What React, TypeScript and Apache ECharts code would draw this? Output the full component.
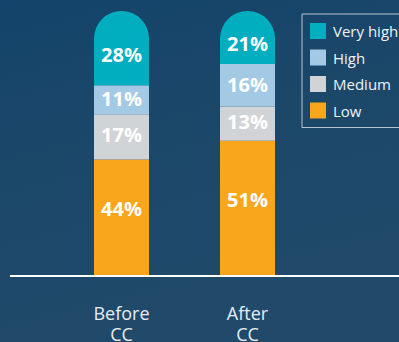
import React, { useEffect, useRef } from "react";
import * as echarts from "echarts";

const categories = ["Before\nCC", "After\nCC"];
const lowValues = [44, 51];
const mediumValues = [17, 13];
const highValues = [11, 16];
const veryHighValues = [28, 21];
const seriesNames = ["Very high", "High", "Medium", "Low"];

export default function App() {
  const ref = useRef<HTMLDivElement>(null);
  useEffect(() => {
    if (!ref.current) return;
    const chart = echarts.init(ref.current, null, { renderer: "svg" });
    const font = "'Open Sans', 'DejaVu Sans', sans-serif";
    const label = (offsetY: number) => ({
      show: true,
      position: "inside",
      formatter: "{c}%",
      color: "#ffffff",
      fontSize: 20,
      fontWeight: "bold",
      fontFamily: font,
      offset: [0, offsetY],
    });
    const barW = 55;
    chart.setOption({
      animation: false,
      backgroundColor: {
        type: "linear",
        x: 0,
        y: 0,
        x2: 0.3,
        y2: 1,
        colorStops: [
          { offset: 0, color: "#14446b" },
          { offset: 0.45, color: "#1b4769" },
          { offset: 1, color: "#214a6a" },
        ],
      },
      grid: { left: 58.5, width: 252, top: 11, bottom: 66, outerBoundsMode: "none", containLabel: false },
      legend: {
        data: seriesNames,
        orient: "vertical",
        left: 302,
        top: 14,
        padding: [9, 10, 9, 8],
        itemWidth: 16,
        itemHeight: 16,
        itemGap: 10.5,
        icon: "rect",
        borderColor: "#b7c3ce",
        borderWidth: 1,
        textStyle: { color: "#eef3f7", fontSize: 15, fontFamily: font, padding: [0, 0, 0, 2] },
      },
      xAxis: {
        type: "category",
        data: categories,
        axisLine: { show: false },
        axisTick: { show: false },
        axisLabel: {
          color: "#e6edf3",
          fontSize: 18,
          lineHeight: 21,
          fontFamily: font,
          margin: 26,
        },
      },
      yAxis: { type: "value", min: 0, max: 100, show: false },
      graphic: [
        {
          type: "line",
          shape: { x1: 10, y1: 276, x2: 399, y2: 276 },
          style: { stroke: "#ffffff", lineWidth: 2 },
          z: 10,
        },
      ],
      series: [
        { name: "Low", type: "bar", stack: "s", barWidth: barW, data: lowValues, itemStyle: { color: "#f9a61c" }, label: label(-9) },
        { name: "Medium", type: "bar", stack: "s", barWidth: barW, data: mediumValues, itemStyle: { color: "#d1d4d7" }, label: label(-2) },
        { name: "High", type: "bar", stack: "s", barWidth: barW, data: highValues, itemStyle: { color: "#a4c9e4" }, label: label(-1) },
        {
          name: "Very high",
          type: "bar",
          stack: "s",
          barWidth: barW,
          data: veryHighValues,
          itemStyle: { color: "#00aebf", borderRadius: [28, 28, 0, 0] },
          label: label(6),
        },
      ],
    });
    return () => chart.dispose();
  }, []);
  return (
    <div
      ref={ref}
      style={{ position: "absolute", left: 0, top: 0, width: 399, height: 342 }}
    />
  );
}
